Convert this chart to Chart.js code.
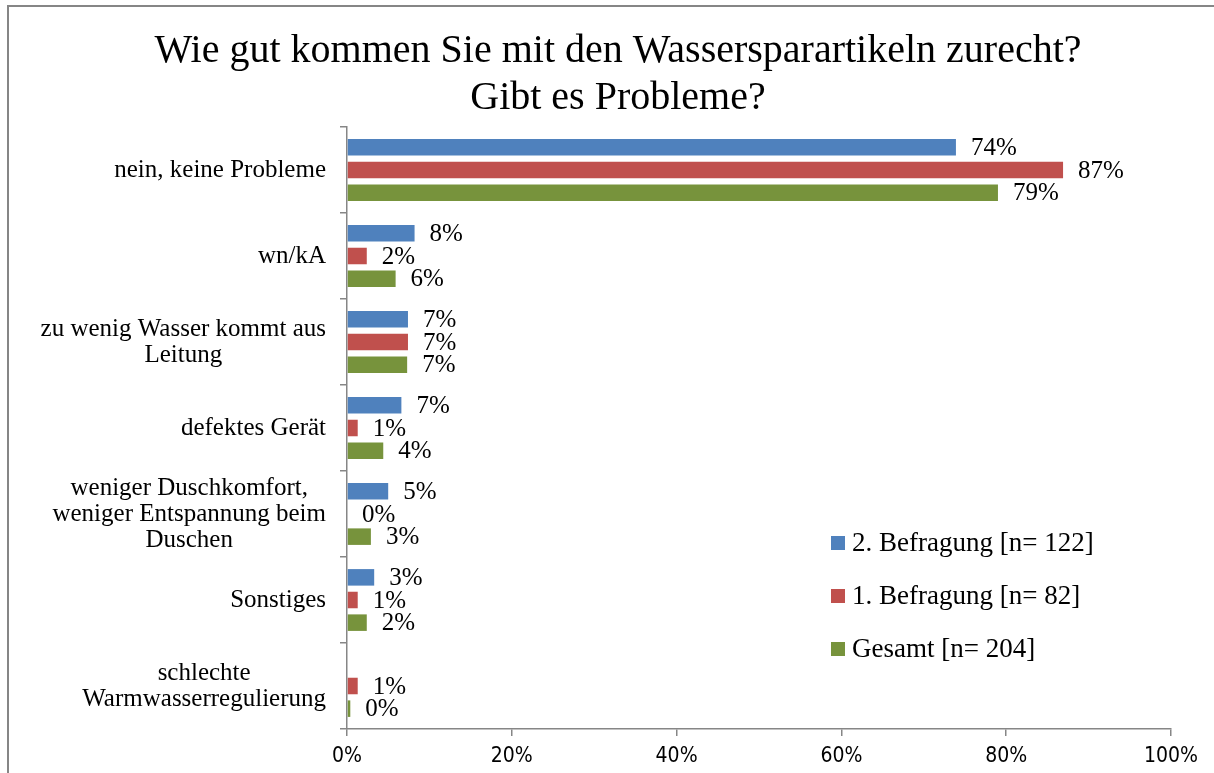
<!DOCTYPE html>
<html>
<head>
<meta charset="utf-8">
<script src="https://cdn.jsdelivr.net/npm/chart.js@4/dist/chart.umd.min.js"></script>
<style>
  html, body { margin: 0; padding: 0; background: #ffffff; }
  #wrap { position: relative; width: 1214px; height: 773px; }
</style>
</head>
<body>
<div id="wrap"><canvas id="c" width="1214" height="773"></canvas></div>
<script>
const titleLines = ["Wie gut kommen Sie mit den Wassersparartikeln zurecht?", "Gibt es Probleme?"];
const categories = [
  ["nein, keine Probleme"],
  ["wn/kA"],
  ["zu wenig Wasser kommt aus", "Leitung"],
  ["defektes Gerät"],
  ["weniger Duschkomfort,", "weniger Entspannung beim", "Duschen"],
  ["Sonstiges"],
  ["schlechte", "Warmwasserregulierung"]
];
const seriesNames = ["2. Befragung [n= 122]", "1. Befragung [n= 82]", "Gesamt [n= 204]"];
const befragung2 = [0.739, 0.082, 0.074, 0.066, 0.050, 0.033, null];
const befragung1 = [0.869, 0.024, 0.074, 0.013, 0.000, 0.013, 0.013];
const gesamt     = [0.790, 0.059, 0.073, 0.044, 0.029, 0.024, 0.004];
const xTicks = [0, 0.2, 0.4, 0.6, 0.8, 1.0];

const SERIF = '"Liberation Serif", "DejaVu Serif", serif';
const AXIS_GRAY = '#868686';

const framePlugin = {
  id: 'frame',
  beforeDraw(chart) {
    const ctx = chart.ctx;
    ctx.save();
    ctx.fillStyle = '#ffffff';
    ctx.fillRect(0, 0, chart.width, chart.height);
    ctx.strokeStyle = AXIS_GRAY;
    ctx.lineWidth = 2;
    ctx.strokeRect(8, 6, chart.width + 20, chart.height + 20);
    ctx.restore();
  }
};

const titlePlugin = {
  id: 'titleText',
  afterDraw(chart) {
    const ctx = chart.ctx;
    ctx.save();
    ctx.fillStyle = '#000';
    ctx.font = '40px ' + SERIF;
    ctx.textAlign = 'center';
    ctx.textBaseline = 'middle';
    ctx.fillText(titleLines[0], 618, 51);
    ctx.fillText(titleLines[1], 618, 98);
    ctx.restore();
  }
};

const catLabelPlugin = {
  id: 'catLabels',
  afterDraw(chart) {
    const ctx = chart.ctx;
    const ys = chart.scales.y;
    ctx.save();
    ctx.fillStyle = '#000';
    ctx.font = '25px ' + SERIF;
    ctx.textAlign = 'center';
    ctx.textBaseline = 'middle';
    const right = 326, lh = 26;
    categories.forEach((lines, i) => {
      const yc = ys.getPixelForValue(i);
      const w = Math.max(...lines.map(l => ctx.measureText(l).width));
      const cx = right - w / 2;
      const y0 = yc - (lines.length - 1) * lh / 2;
      lines.forEach((l, k) => ctx.fillText(l, cx, y0 + k * lh));
    });
    ctx.restore();
  }
};

const dataLabelPlugin = {
  id: 'dataLabels',
  afterDatasetsDraw(chart) {
    const ctx = chart.ctx;
    ctx.save();
    ctx.fillStyle = '#000';
    ctx.font = '25px ' + SERIF;
    ctx.textAlign = 'left';
    ctx.textBaseline = 'middle';
    chart.data.datasets.forEach((ds, di) => {
      const meta = chart.getDatasetMeta(di);
      meta.data.forEach((el, i) => {
        const v = ds.data[i];
        if (v === null || v === undefined) return;
        ctx.fillText(Math.round(v * 100) + '%', el.x + 15, el.y + 1);
      });
    });
    ctx.restore();
  }
};

const legendPlugin = {
  id: 'customLegend',
  afterDraw(chart) {
    const ctx = chart.ctx;
    ctx.save();
    ctx.font = '27px ' + SERIF;
    ctx.textAlign = 'left';
    ctx.textBaseline = 'middle';
    chart.data.datasets.forEach((ds, i) => {
      const y = 543 + i * 53;
      ctx.fillStyle = ds.backgroundColor;
      ctx.fillRect(831, y - 7, 14, 14);
      ctx.fillStyle = '#000';
      ctx.fillText(ds.label, 852, y + 1);
    });
    ctx.restore();
  }
};

const colors = ['#4F81BD', '#C0504D', '#77933C'];
const seriesData = [befragung2, befragung1, gesamt];

new Chart(document.getElementById('c'), {
  type: 'bar',
  data: {
    labels: categories.map(c => c.join(' ')),
    datasets: seriesNames.map((n, i) => ({
      label: n,
      data: seriesData[i],
      backgroundColor: colors[i],
      borderWidth: 0,
      categoryPercentage: 0.79,
      barPercentage: 0.73
    }))
  },
  options: {
    indexAxis: 'y',
    responsive: false,
    animation: false,
    layout: { padding: { left: 0, right: 43, top: 127, bottom: 0 } },
    plugins: {
      legend: { display: false },
      title: { display: false },
      tooltip: { enabled: false }
    },
    scales: {
      y: {
        type: 'category',
        afterFit(scale) { scale.width = 347; },
        grid: { drawOnChartArea: false, drawTicks: true, tickLength: 7, color: AXIS_GRAY, lineWidth: 1.5, offset: true },
        border: { display: true, color: AXIS_GRAY, width: 1.5 },
        ticks: { display: false }
      },
      x: {
        min: 0, max: 1,
        afterFit(scale) { scale.height = 44; },
        afterBuildTicks(scale) { scale.ticks = xTicks.map(v => ({ value: v })); },
        grid: { drawOnChartArea: false, drawTicks: true, tickLength: 7, color: AXIS_GRAY, lineWidth: 1.5 },
        border: { display: true, color: AXIS_GRAY, width: 1.5 },
        ticks: {
          padding: 8,
          color: '#000',
          font: { family: '"Liberation Sans Narrow", "DejaVu Sans Condensed", sans-serif', size: 21 },
          callback: (v) => Math.round(v * 100) + '%'
        }
      }
    }
  },
  plugins: [framePlugin, titlePlugin, catLabelPlugin, dataLabelPlugin, legendPlugin]
});
</script>
</body>
</html>
